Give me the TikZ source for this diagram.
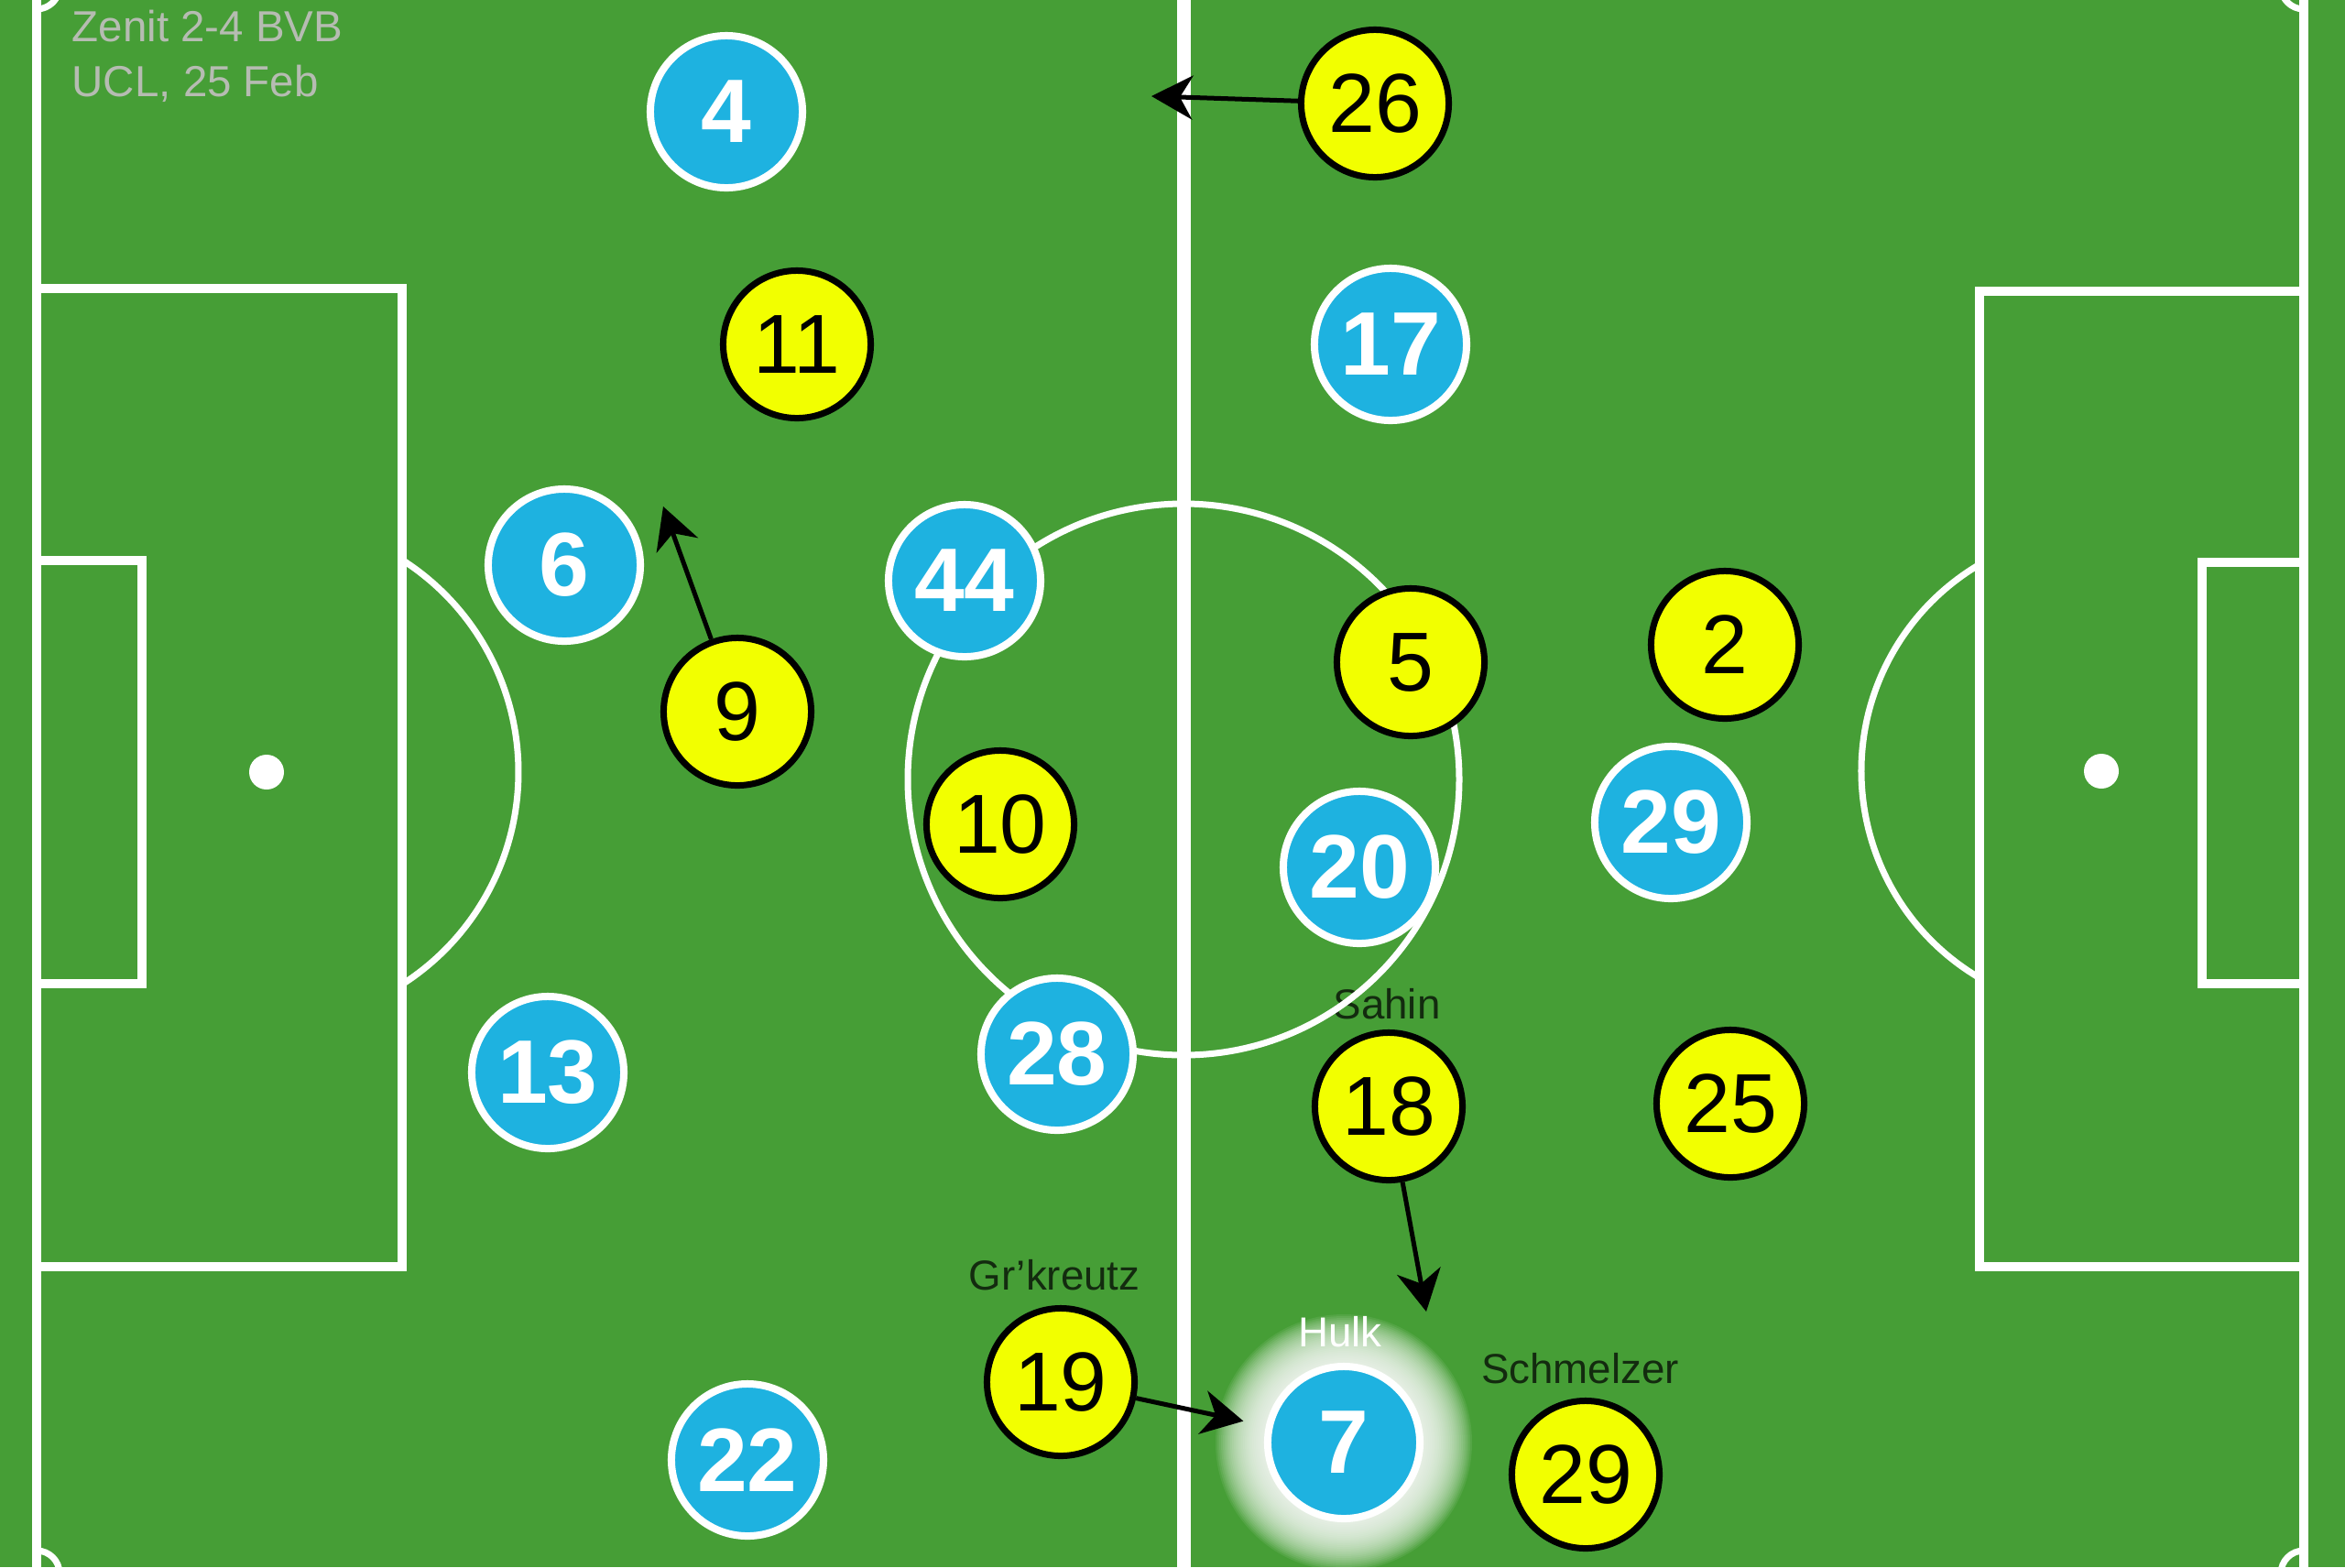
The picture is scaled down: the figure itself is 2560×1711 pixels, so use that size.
\documentclass[tikz,border=0pt]{standalone}
\usepackage{fontspec}
\setmainfont{Liberation Sans}
\usetikzlibrary{arrows.meta}

\definecolor{pitchgreen}{RGB}{70,158,54}
\definecolor{zenitblue}{RGB}{30,178,224}
\definecolor{bvbyellow}{RGB}{242,255,0}
\definecolor{captiongrey}{RGB}{182,188,178}

\tikzset{
  pitchline/.style={draw=white, line width=0.1cm},
  halfway/.style={draw=white, line width=0.15cm},
  arcline/.style={draw=white, line width=0.07cm},
  zenit/.style={circle, fill=zenitblue, draw=white, line width=0.08cm, minimum size=1.66cm, inner sep=0pt, text=white, font=\fontsize{28}{28}\selectfont\bfseries},
  bvb/.style={circle, fill=bvbyellow, draw=black, line width=0.07cm, minimum size=1.61cm, inner sep=0pt, text=black, font=\fontsize{26}{26}\selectfont},
  namelabel/.style={anchor=base, inner sep=0pt, text=black, text opacity=0.72, font=\fontsize{13}{13}\selectfont},
  caption/.style={anchor=base west, inner sep=0pt, text=captiongrey, font=\fontsize{13.5}{13.5}\selectfont},
  runarrow/.style={-{Stealth[length=0.45cm, width=0.48cm, inset=0.14cm]}, line width=0.05cm, draw=black}
}

\begin{document}
\begin{tikzpicture}[x=0.01cm, y=-0.01cm]

\fill [pitchgreen] (0,0) rectangle (2560,1711);
\useasboundingbox (0,0) rectangle (2560,1711);
\clip (0,0) rectangle (2560,1711);

% glow behind Hulk
\coordinate (hulkpos) at (1467,1575);
\foreach \r in {88,90,...,140}
  \fill [white, opacity=0.08] (hulkpos) circle [radius=\r];

\node [caption] (title) at (78,45) {Zenit 2-4 BVB};
\node [caption] (date) at (78,105) {UCL, 25 Feb};

\node [namelabel] (sahin) at (1514,1112) {Sahin};
\node [namelabel] (grosskreutz) at (1151,1408) {Gr’kreutz};
\node [namelabel, text=white, text opacity=1] (hulk) at (1463,1470) {Hulk};
\node [namelabel] (schmelzer) at (1725,1510) {Schmelzer};

\begin{scope}
\draw [pitchline] (40,-15) rectangle (2515,1718);
\draw [halfway] (1292,-15) -- (1292,1718);
\draw [arcline] (1292,851) circle [radius=301];
\draw [pitchline] (40,315) rectangle (439,1383);
\draw [pitchline] (40,612) rectangle (155,1074);
\draw [pitchline] (2515,318) rectangle (2161,1383);
\draw [pitchline] (2515,614) rectangle (2404,1074);
\draw [arcline] (291,843) ++(-57.4:275) arc [start angle=-57.4, end angle=57.4, radius=275];
\draw [arcline] (2294,842) ++(120.5:262) arc [start angle=120.5, end angle=239.5, radius=262];
\fill [white] (291,843) circle [radius=19];
\fill [white] (2294,842) circle [radius=19];
\draw [arcline] (40,10) arc [start angle=90, end angle=0, radius=25];
\draw [arcline] (40,1693) arc [start angle=-90, end angle=0, radius=25];
\draw [arcline] (2490,-15) arc [start angle=180, end angle=90, radius=25];
\draw [arcline] (2490,1718) arc [start angle=180, end angle=270, radius=25];
\end{scope}

\begin{scope}
\node [zenit] (z4) at (793,122) {4};
\node [zenit] (z17) at (1518,376) {17};
\node [zenit] (z6) at (616,617) {6};
\node [zenit] (z44) at (1053,634) {44};
\node [zenit] (z20) at (1484,947) {20};
\node [zenit] (z29) at (1824,898) {29};
\node [zenit] (z13) at (598,1171) {13};
\node [zenit] (z28) at (1154,1151) {28};
\node [zenit] (z22) at (816,1594) {22};
\node [zenit] (z7) at (hulkpos) {7};
\end{scope}

\begin{scope}
\node [bvb] (b26) at (1501,113) {26};
\node [bvb] (b11) at (870,376) {11};
\node [bvb] (b9) at (805,777) {9};
\node [bvb] (b10) at (1092,900) {10};
\node [bvb] (b5) at (1540,723) {5};
\node [bvb] (b2) at (1883,704) {2};
\node [bvb] (b18) at (1516,1208) {18};
\node [bvb] (b25) at (1889,1205) {25};
\node [bvb] (b19) at (1158,1509) {19};
\node [bvb] (b29) at (1731,1610) {29};
\end{scope}

\coordinate (b26run) at (1257,105);
\coordinate (b9run) at (724,553);
\coordinate (b18run) at (1557,1432);

\draw [runarrow] (b26) -- (b26run);
\draw [runarrow] (b9) -- (b9run);
\draw [runarrow] (b18) -- (b18run);
\draw [runarrow, shorten >=0.25cm] (b19) -- (z7);

\end{tikzpicture}
\end{document}
